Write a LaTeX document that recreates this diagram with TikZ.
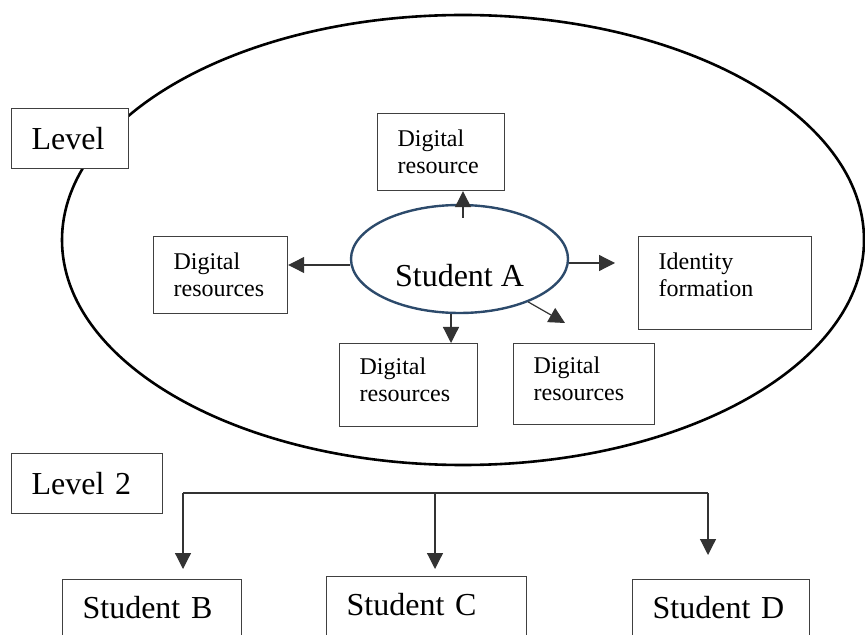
\documentclass[tikz,border=0pt]{standalone}
\usepackage{fontspec}
\setmainfont{Liberation Serif}
\usetikzlibrary{shapes.geometric,arrows.meta}
\definecolor{sablue}{RGB}{44,74,107}

\begin{document}
\begin{tikzpicture}[
    x=0.5pt,y=-0.5pt,
    box/.style={rectangle,draw=black!75,line width=0.6pt,fill=white,anchor=north west,align=left,inner xsep=10pt,inner ysep=0pt,font=\fontsize{12}{13.5}\selectfont},
    bigbox/.style={box,font=\fontsize{16}{19}\selectfont},
    studentbox/.style={bigbox,inner ysep=8.5pt,text height=11pt,text depth=40pt},
    link/.style={line width=0.6pt,draw=black!80},
    arrow/.style={link,-{Triangle[length=8pt,width=8pt]}}
]
    \useasboundingbox (0,0) rectangle (865,635);
    \clip (0,0) rectangle (865,635);

    % Level 1
    \node[ellipse,draw,line width=1.3pt,minimum width=401pt,minimum height=225pt] (level1) at (463,240) {};
    \node[bigbox,text width=38.5pt,minimum height=30pt] (lvl) at (11,108) {Level};

    % Student A and resources
    \node[ellipse,draw=sablue,line width=1.2pt,minimum width=108.5pt,minimum height=54pt,inner sep=0pt,text height=28pt,text depth=0pt,font=\fontsize{16}{19}\selectfont] (sa) at (459.5,259) {Student A};
    \node[box,text width=43.5pt,minimum height=38.5pt] (topdr) at (377,113) {Digital\\resource};
    \node[box,text width=47pt,minimum height=38.5pt] (leftdr) at (153,236) {Digital\\resources};
    \node[box,text width=66.5pt,minimum height=46.5pt,text depth=21.5pt] (identity) at (638,236) {Identity\\formation};
    \node[box,text width=49pt,minimum height=41.5pt,text depth=18.5pt] (botdr) at (339,343) {Digital\\resources};
    \node[box,text width=50.5pt,minimum height=40.5pt,text depth=18.5pt] (rightdr) at (513,343) {Digital\\resources};

    % Arrows from Student A
    \coordinate (satop) at ([xshift=1.75pt,yshift=-7pt]sa.north);
    \coordinate (saleft) at ([yshift=-3pt]sa.west);
    \coordinate (saright) at ([yshift=-2pt]sa.east);
    \coordinate (sabot) at ([xshift=-4.25pt]sa.south);
    \coordinate (diagtip) at (565,323);
    \draw[arrow] (satop) -- (satop |- topdr.south);
    \draw[arrow] (saleft) -- (saleft -| leftdr.east);
    \draw[arrow,shorten >=11.5pt] (saright) -- (saright -| identity.west);
    \draw[arrow] (sabot) -- (sabot |- botdr.north);
    \draw[arrow] (sa.-32) -- (diagtip);

    % Level 2
    \node[bigbox,text width=55.5pt,minimum height=30pt] (lvl2) at (11,453) {Level 2};
    \node[studentbox,text width=69.5pt] (sb) at (62,579) {Student B};
    \node[studentbox,text width=80pt] (sc) at (326,576) {Student C};
    \node[studentbox,text width=68.5pt] (sd) at (632,579) {Student D};

    \coordinate (hubl) at (183,493);
    \coordinate (hubc) at (435,493);
    \coordinate (hubr) at (708,493);
    \draw[link] (hubl) -- (hubr);
    \draw[arrow,shorten >=5pt] (hubl) -- (hubl |- sb.north);
    \draw[arrow,shorten >=3.5pt] (hubc) -- (hubc |- sc.north);
    \draw[arrow,shorten >=12pt] (hubr) -- (hubr |- sd.north);
\end{tikzpicture}
\end{document}
